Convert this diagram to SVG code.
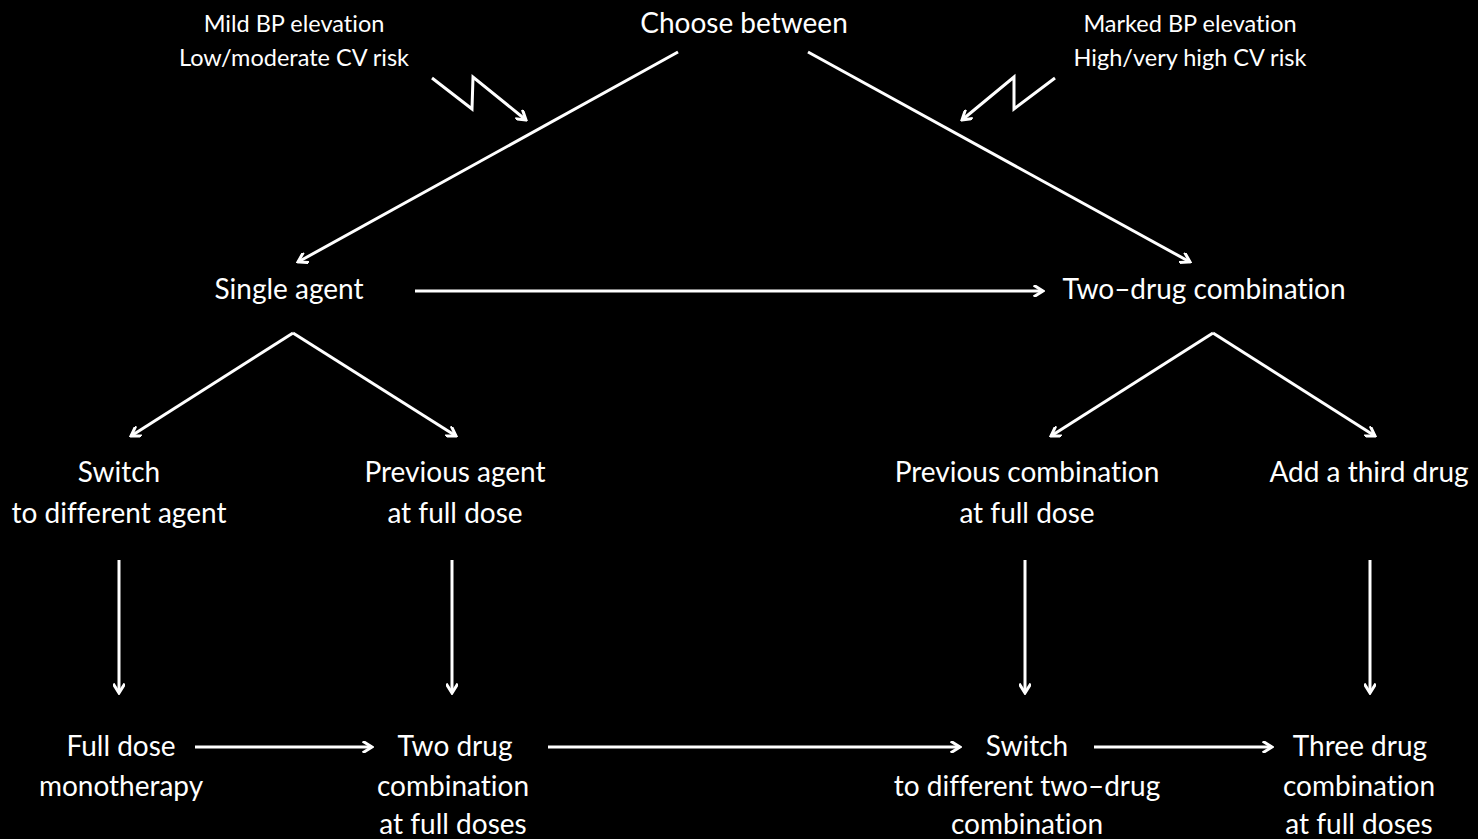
<svg xmlns="http://www.w3.org/2000/svg" width="1478" height="839" viewBox="0 0 1478 839">
<defs>
<marker id="ah" viewBox="0 0 12 12" refX="10" refY="6" markerWidth="12" markerHeight="12" markerUnits="userSpaceOnUse" orient="auto">
<polyline points="2,1 10,6 2,11" fill="none" stroke="#fff" stroke-width="3" stroke-linecap="square"/>
</marker>
<style>
.t{font-family:Lato,"Open Sans","Liberation Sans",sans-serif;fill:#fff;text-anchor:middle;font-size:28px;font-variant-ligatures:none}
.s{font-size:23.5px}
.c{stroke:#fff;stroke-width:3;fill:none;marker-end:url(#ah)}
</style>
</defs>
<rect width="1478" height="839" fill="#000"/>
<g id="connectors">
<path class="c" d="M678,52 L298,262"/>
<path class="c" d="M808,52 L1190,262"/>
<path class="c" d="M432,78 L472,109 L473,77 L526,120"/>
<path class="c" d="M1055,78 L1014,109 L1014,77 L962,120"/>
<path class="c" d="M415,291 L1043,291"/>
<path class="c" d="M293,333 L131,436"/>
<path class="c" d="M293,333 L456,436"/>
<path class="c" d="M1213,333 L1051,436"/>
<path class="c" d="M1213,333 L1375,436"/>
<path class="c" d="M119,560 L119,693"/>
<path class="c" d="M452,560 L452,693"/>
<path class="c" d="M1025,560 L1025,693"/>
<path class="c" d="M1370,560 L1370,693"/>
<path class="c" d="M195,747 L372,747"/>
<path class="c" d="M548,747 L960,747"/>
<path class="c" d="M1094,747 L1272,747"/>
</g>
<g id="choose"><text class="t" x="744" y="33">Choose between</text></g>
<g id="mild"><text class="t s" x="294" y="32">Mild BP elevation</text><text class="t s" x="294" y="66">Low/moderate CV risk</text></g>
<g id="marked"><text class="t s" x="1190" y="32">Marked BP elevation</text><text class="t s" x="1190" y="66">High/very high CV risk</text></g>
<g id="single"><text class="t" x="289" y="299">Single agent</text></g>
<g id="twodrug"><text class="t" x="1204" y="299">Two–drug combination</text></g>
<g id="switch1"><text class="t" x="119" y="482">Switch</text><text class="t" x="119" y="523">to different agent</text></g>
<g id="prevagent"><text class="t" x="455" y="482">Previous agent</text><text class="t" x="455" y="523">at full dose</text></g>
<g id="prevcomb"><text class="t" x="1027" y="482">Previous combination</text><text class="t" x="1027" y="523">at full dose</text></g>
<g id="third"><text class="t" x="1369" y="482">Add a third drug</text></g>
<g id="fulldose"><text class="t" x="121" y="756">Full dose</text><text class="t" x="121" y="796">monotherapy</text></g>
<g id="twodrugfull"><text class="t" x="455" y="756">Two drug</text><text class="t" x="453" y="796">combination</text><text class="t" x="453" y="834">at full doses</text></g>
<g id="switch2"><text class="t" x="1027" y="756">Switch</text><text class="t" x="1027" y="796">to different two–drug</text><text class="t" x="1027" y="834">combination</text></g>
<g id="threedrug"><text class="t" x="1360" y="756">Three drug</text><text class="t" x="1359" y="796">combination</text><text class="t" x="1359" y="834">at full doses</text></g>
</svg>
